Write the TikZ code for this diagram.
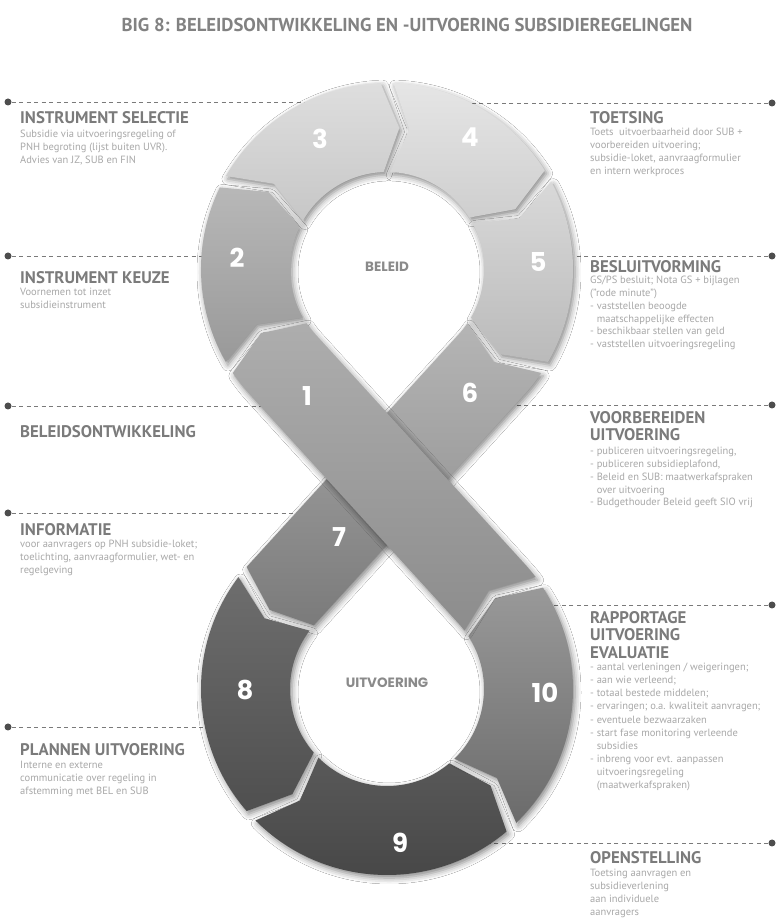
\documentclass[tikz,border=0pt]{standalone}
\usepackage{fontspec}
\setmainfont{PT Sans}
\newfontfamily\numfont{Poppins}
\newfontfamily\titlefont{PT Sans}
\usetikzlibrary{calc,shadows.blur}

\definecolor{headgray}{HTML}{7B7B7B}
\definecolor{bodygray}{HTML}{A8A8A8}
\definecolor{dashgray}{HTML}{7A7A7A}
\definecolor{dotgray}{HTML}{4D4D4D}
\definecolor{titlegray}{HTML}{828282}
\definecolor{holegray}{HTML}{8A8A8A}

% ring radii (outer, inner, middle) and depth of arrow tips in degrees
\def\rOut{186}
\def\rIn{97}
\def\rMid{141.5}
\def\tipA{7}

% arrow-shaped piece of a ring: center, start angle, end angle, direction, fill
\newcommand\arcpiece[5]{%
  \path[piece,#5] ($(#1)+(#2:\rOut)$) arc[start angle=#2, end angle=#3, radius=\rOut]
    -- ($(#1)+({#3+(#4)*\tipA}:\rMid)$) -- ($(#1)+(#3:\rIn)$)
    arc[start angle=#3, end angle=#2, radius=\rIn]
    -- ($(#1)+({#2+(#4)*\tipA}:\rMid)$) -- cycle;}

\newcommand\ind{\phantom{- }}

\begin{document}
\begin{tikzpicture}[x=1pt,y=1pt,
  piece/.style={blur shadow={shadow xshift=2pt,shadow yshift=-3pt,shadow blur radius=6pt,shadow opacity=48}},
  num/.style={text=white,font=\numfont\bfseries\fontsize{26}{26}\selectfont},
  hole/.style={text=holegray,font=\numfont\bfseries\fontsize{13.5}{13.5}\selectfont},
  head/.style={anchor=north west,inner sep=0pt,align=left,text=headgray,execute at begin node=\rule{0pt}{12.25pt},
    font=\bfseries\fontsize{16.8}{17.5}\selectfont},
  body/.style={anchor=north west,inner sep=0pt,align=left,text=bodygray,execute at begin node=\rule{0pt}{9pt},
    font=\fontsize{10.5}{12.8}\selectfont},
  dot/.style={circle,fill=dotgray,inner sep=0pt,minimum size=7pt},
  leader/.style={draw=dashgray,line width=0.9pt,dash pattern=on 4pt off 3.5pt}]
  \useasboundingbox[fill=white] (0,0) rectangle (779,919);

  \node[text=titlegray,font=\titlefont\bfseries\fontsize{18.7}{18.7}\selectfont] (title) at (407,894)
    {BIG 8: BELEIDSONTWIKKELING EN -UITVOERING SUBSIDIEREGELINGEN};

  \foreach \nm/\xa/\y/\xb in {sel/8/817/315, keu/8/663/210, ont/8/513/268, inf/8/406/305, pla/8/192/213,
      toe/772/816/462, bes/772/663/575, voo/772/514/507, rap/772/314/545, ope/772/76/483} {
    \node[dot] (d\nm) at (\xa,\y) {};
    \coordinate (e\nm) at (\xb,\y);
    \draw[leader] (d\nm) -- (e\nm);
  }

  \coordinate (T) at (387,650);
  \coordinate (B) at (387,230);
  \coordinate (O) at (387,440);
  \coordinate (cA) at ($(O)+(-42.36:44.5)$);
  \coordinate (cB) at ($(O)+(137.64:44.5)$);

  \arcpiece{T}{210}{154}{-1}{top color=black!28,bottom color=black!40}
  \arcpiece{T}{150}{92}{-1}{top color=black!13,bottom color=black!22}
  \arcpiece{T}{88}{32}{-1}{top color=black!10,bottom color=black!19}
  \arcpiece{T}{28}{-30}{-1}{top color=black!15,bottom color=black!27}

  \path[piece,top color=black!40,bottom color=black!52] (cA) -- ($(B)+(137.64:\rIn)$)
    arc[start angle=137.64, end angle=139, radius=\rIn] -- ($(B)+(146:\rMid)$)
    -- ($(B)+(139:\rOut)$) arc[start angle=139, end angle=137.64, radius=\rOut] -- (cB) -- cycle;
  \path[piece,top color=black!29,bottom color=black!40] ($(T)+(-34:\rOut)$)
    arc[start angle=-34, end angle=-42.36, radius=\rOut] -- (cA) -- (cB)
    -- ($(T)+(-42.36:\rIn)$) arc[start angle=-42.36, end angle=-34, radius=\rIn]
    -- ($(T)+(-41:\rMid)$) -- cycle;

  \arcpiece{B}{143}{221}{1}{top color=black!57,bottom color=black!69}
  \arcpiece{B}{225}{310}{1}{top color=black!65,bottom color=black!73}
  \arcpiece{B}{314}{393}{1}{top color=black!40,bottom color=black!58}

  \path[piece,top color=black!32,bottom color=black!45] ($(B)+(37:\rOut)$)
    arc[start angle=37, end angle=42.36, radius=\rOut]
    -- ($(T)+(222.36:\rIn)$) arc[start angle=222.36, end angle=214, radius=\rIn]
    -- ($(T)+(207:\rMid)$) -- ($(T)+(214:\rOut)$) arc[start angle=214, end angle=222.36, radius=\rOut]
    -- ($(B)+(42.36:\rIn)$) arc[start angle=42.36, end angle=37, radius=\rIn]
    -- ($(B)+(44:\rMid)$) -- cycle;

  \node[num] (n1) at (307,523) {1};
  \node[num] (n2) at (237,661) {2};
  \node[num] (n3) at (320,780) {3};
  \node[num] (n4) at (470,782) {4};
  \node[num] (n5) at (538,657) {5};
  \node[num] (n6) at (470,526) {6};
  \node[num] (n7) at (339,382) {7};
  \node[num] (n8) at (245,229) {8};
  \node[num] (n9) at (400,76) {9};
  \node[num] (n10) at (545,226) {10};

  \node[hole] (beleid) at (387,652) {BELEID};
  \node[hole] (uitv) at (387,236) {UITVOERING};

  \node[head] (hsel) at (20,808) {INSTRUMENT SELECTIE};
  \node[body] (bsel) at (20,789) {Subsidie via uitvoeringsregeling of\\PNH begroting (lijst buiten UVR).\\Advies van JZ, SUB en FIN};
  \node[head] (hkeu) at (20,648) {INSTRUMENT KEUZE};
  \node[body] (bkeu) at (20,631) {Voornemen tot inzet\\subsidieinstrument};
  \node[head] (hont) at (20,494) {BELEIDSONTWIKKELING};
  \node[head] (hinf) at (20,395.5) {INFORMATIE};
  \node[body] (binf) at (20,379) {voor aanvragers op PNH subsidie-loket;\\toelichting, aanvraagformulier, wet- en\\regelgeving};
  \node[head] (hpla) at (20,176) {PLANNEN UITVOERING};
  \node[body] (bpla) at (20,158) {Interne en externe\\communicatie over regeling in\\afstemming met BEL en SUB};

  \node[head] (htoe) at (590,808) {TOETSING};
  \node[body] (btoe) at (590,791) {Toets\ \ uitvoerbaarheid door SUB +\\voorbereiden uitvoering;\\subsidie-loket, aanvraagformulier\\en intern werkproces};
  \node[head] (hbes) at (590,659) {BESLUITVORMING};
  \node[body] (bbes) at (590,643) {GS/PS besluit; Nota GS + bijlagen\\("rode minute")\\- vaststellen beoogde\\\ind maatschappelijke effecten\\- beschikbaar stellen van geld\\- vaststellen uitvoeringsregeling};
  \node[head] (hvoo) at (590,508) {VOORBEREIDEN\\UITVOERING};
  \node[body] (bvoo) at (590,472) {- publiceren uitvoeringsregeling,\\- publiceren subsidieplafond,\\- Beleid en SUB: maatwerkafspraken\\\ind over uitvoering\\- Budgethouder Beleid geeft SIO vrij};
  \node[head] (hrap) at (590,308) {RAPPORTAGE\\UITVOERING\\EVALUATIE};
  \node[body,font=\fontsize{10.5}{13.1}\selectfont] (brap) at (590,256) {- aantal verleningen / weigeringen;\\- aan wie verleend;\\- totaal bestede middelen;\\- ervaringen; o.a. kwaliteit aanvragen;\\- eventuele bezwaarzaken\\- start fase monitoring verleende\\\ind subsidies\\- inbreng voor evt. aanpassen\\\ind uitvoeringsregeling\\\ind (maatwerkafspraken)};
  \node[head] (hope) at (590,68) {OPENSTELLING};
  \node[body] (bope) at (590,50) {Toetsing aanvragen en\\subsidieverlening\\aan individuele\\aanvragers};
\end{tikzpicture}
\end{document}
